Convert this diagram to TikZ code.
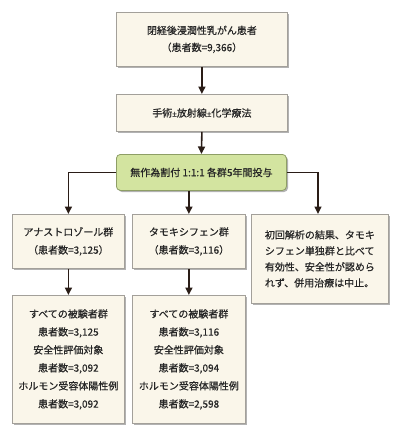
\documentclass[tikz,border=0pt]{standalone}
\usepackage{fontspec}
\newfontfamily\cjk[RawFeature={embolden=0.6}]{Noto Sans CJK JP}
\newfontfamily\lat[RawFeature={embolden=0.6}]{Noto Sans}
\newcommand{\pmsmall}{{\lat\fontsize{8}{8}\selectfont ±}}
\usetikzlibrary{arrows.meta,shadows,positioning}
\definecolor{cream}{HTML}{FAF6EA}
\definecolor{boxline}{HTML}{A3A09A}
\definecolor{greenfill}{HTML}{D3E4A0}
\definecolor{greenline}{HTML}{8E9E66}
\definecolor{arrowcol}{HTML}{2A1D17}
\begin{document}
\begin{tikzpicture}[x=1pt,y=-1pt,
  box/.style={draw=boxline, fill=cream, line width=0.8pt, anchor=north west, inner sep=0pt,
    font=\cjk\fontsize{10}{18}\selectfont, align=center, text=black!85,
    drop shadow={shadow xshift=1.6pt, shadow yshift=-1.6pt, fill=black!30, opacity=1}},
  gbox/.style={box, fill=greenfill, draw=greenline, rounded corners=4pt},
  arr/.style={draw=arrowcol, line width=1.6pt, -{Triangle[length=7.5pt,width=7pt]}}
]
\useasboundingbox (0,0) rectangle (400,437);
\fill[white] (0,0) rectangle (400,437);

\node[box, minimum width=171pt, minimum height=54pt, font=\cjk\fontsize{10}{17}\selectfont] (top) at (116,12) {閉経後浸潤性乳がん患者\\（患者数=9,366）};
\node[box, minimum width=171pt, minimum height=37pt] (treat) at (116,94) {手術\pmsmall 放射線\pmsmall 化学療法};
\node[gbox, minimum width=170pt, minimum height=36pt] (rand) at (116,154) {無作為割付 1:1:1 各群5年間投与};

\node[box, minimum width=112pt, minimum height=54pt] (ana) at (12,214) {アナストロゾール群\\（患者数=3,125）};
\node[box, minimum width=113pt, minimum height=54pt] (tam) at (132,214) {タモキシフェン群\\（患者数=3,116）};
\node[box, minimum width=137pt, minimum height=89pt, align=left, font=\cjk\fontsize{10}{16}\selectfont] (comb) at (251,214) {初回解析の結果、タモキ\\シフェン単独群と比べて\\有効性、安全性が認めら\\れず、併用治療は中止。};

\node[box, minimum width=112pt, minimum height=128pt] (anaall) at (12,295) {すべての被験者群\\患者数=3,125\\安全性評価対象\\患者数=3,092\\ホルモン受容体陽性例\\患者数=3,092};
\node[box, minimum width=113pt, minimum height=128pt] (tamall) at (132,295) {すべての被験者群\\患者数=3,116\\安全性評価対象\\患者数=3,094\\ホルモン受容体陽性例\\患者数=2,598};

\draw[arr] (top.south) -- (treat.north);
\draw[arr] (treat.south) -- (rand.north);
\draw[arr] (rand.west) -| (ana.north);
\draw[arr] (rand.south -| tam.north) -- (tam.north);
\draw[arr] (rand.east) -| (comb.north -| 318,0);
\draw[arr] (ana.south) -- (anaall.north);
\draw[arr] (tam.south) -- (tamall.north);
\end{tikzpicture}
\end{document}
